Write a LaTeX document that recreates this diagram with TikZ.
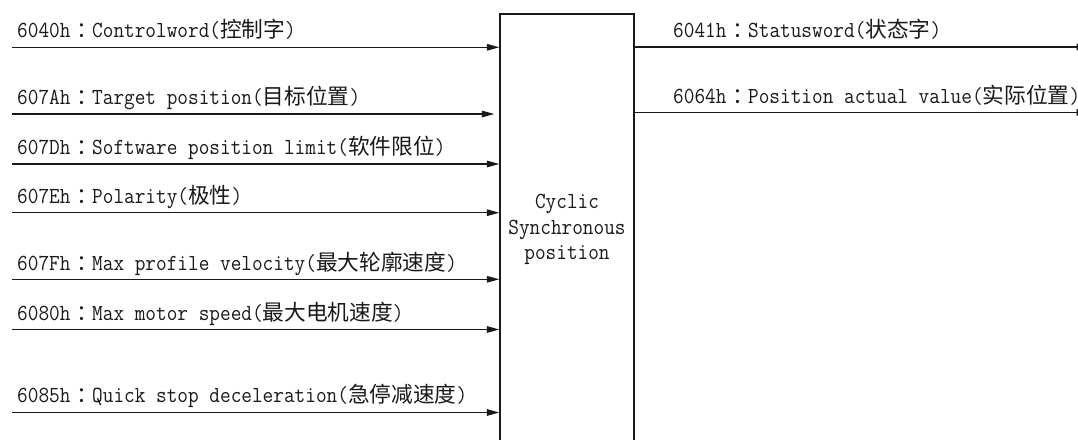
\documentclass[tikz,border=0pt]{standalone}
\usepackage{fontspec}
\setmainfont[FakeStretch=0.90]{Latin Modern Mono}
\newfontfamily\cjkfont{Noto Sans CJK SC}
\usetikzlibrary{arrows.meta}
\newcommand\zh[1]{{\fontsize{21.7}{25.5}\selectfont\cjkfont #1}}
\newcommand\zc{{\fontsize{21.7}{25.5}\selectfont\cjkfont\kern6pt：\kern-6pt}}
\begin{document}
\begin{tikzpicture}[x=1pt,y=-1pt,
  lbl/.style={anchor=base west, inner sep=0pt, font=\fontsize{23}{25.5}\selectfont, text=black!90},
  conn/.style={line width=1.3pt, draw=black!90, -{Triangle[length=12.5pt,width=6.5pt]}},
  blk/.style={draw=black!90, line width=1.3pt, minimum width=134pt, minimum height=431pt, inner sep=0pt, align=center, text=black!90, font=\fontsize{23}{25.5}\selectfont}]
\useasboundingbox (0,0) rectangle (1078,439);
\node[blk] (box) at (567,229.5) {Cyclic\\Synchronous\\position};
% input labels
\node[lbl] (l1) at (17,37) {6040h\zc Controlword(\zh{控制字})};
\node[lbl] (l2) at (17,104) {607Ah\zc Target position(\zh{目标位置})};
\node[lbl] (l3) at (17,154) {607Dh\zc Software position limit(\zh{软件限位})};
\node[lbl] (l4) at (17,203) {607Eh\zc Polarity(\zh{极性})};
\node[lbl] (l5) at (17,270) {607Fh\zc Max profile velocity(\zh{最大轮廓速度})};
\node[lbl] (l6) at (17,320) {6080h\zc Max motor speed(\zh{最大电机速度})};
\node[lbl] (l7) at (17,402) {6085h\zc Quick stop deceleration(\zh{急停减速度})};
% output labels
\node[lbl] (r1) at (673,37) {6041h\zc Statusword(\zh{状态字})};
\node[lbl] (r2) at (673,103) {6064h\zc Position actual value(\zh{实际位置})};
% input connector starts
\coordinate (s1) at (12,47.3);
\coordinate (s2) at (12,114);
\coordinate (s3) at (12,164);
\coordinate (s4) at (12,212.7);
\coordinate (s5) at (12,279.3);
\coordinate (s6) at (12,329.5);
\coordinate (s7) at (12,412.5);
% output connector ends
\coordinate (e1) at (1089,47);
\coordinate (e2) at (1089,112.5);
\draw[conn] (s1) -- (s1 -| box.west);
\draw[conn, shorten >=5pt] (s2) -- (s2 -| box.west);
\draw[conn] (s3) -- (s3 -| box.west);
\draw[conn] (s4) -- (s4 -| box.west);
\draw[conn] (s5) -- (s5 -| box.west);
\draw[conn] (s6) -- (s6 -| box.west);
\draw[conn] (s7) -- (s7 -| box.west);
\draw[conn] (e1 -| box.east) -- (e1);
\draw[conn] (e2 -| box.east) -- (e2);
\end{tikzpicture}
\end{document}
